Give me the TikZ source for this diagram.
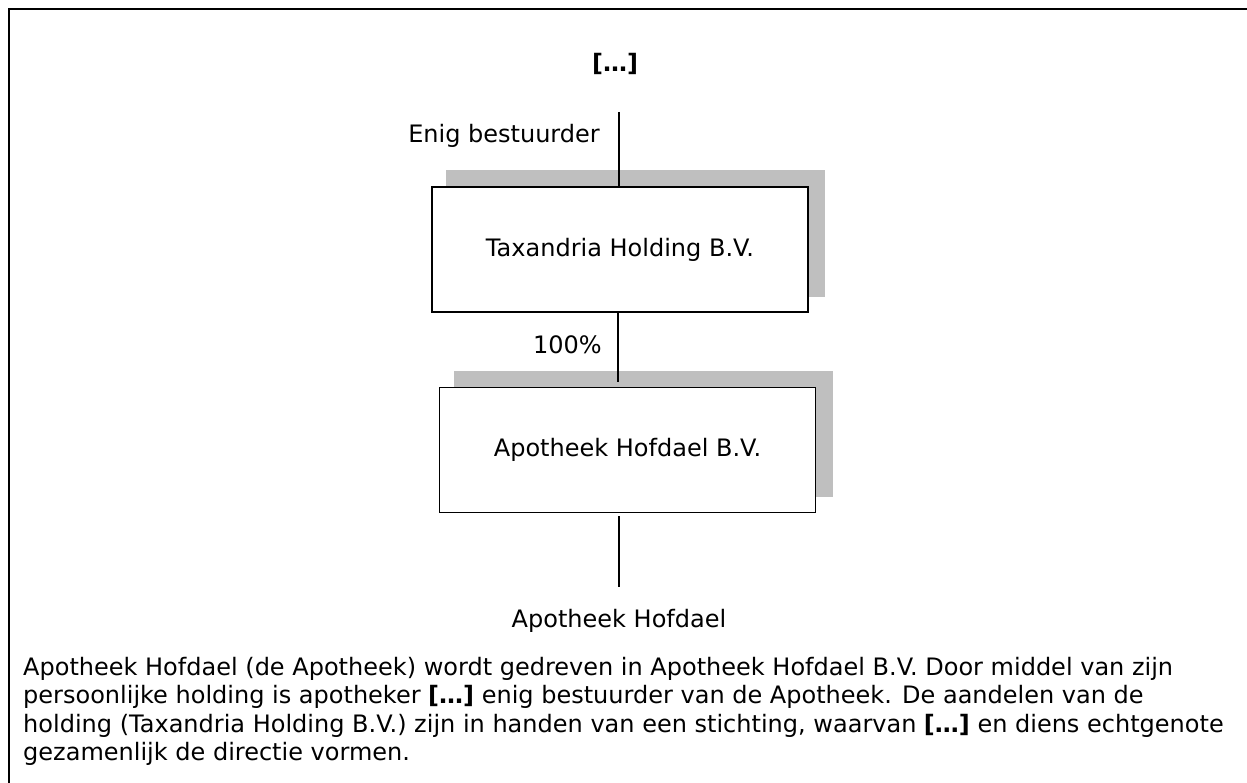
\documentclass[tikz,border=0pt]{standalone}
\usepackage{fontspec}
\setmainfont{DejaVu Sans}
\definecolor{shadowgray}{RGB}{191,191,191}
\begin{document}
\begin{tikzpicture}[x=1pt,y=-1pt,
  every node/.style={font=\fontsize{24}{28.5}\selectfont},
  entity/.style={draw=black,line width=1.8pt,fill=white,minimum width=376pt,minimum height=125pt,inner sep=0pt},
  link/.style={line width=1.3pt},
  lbl/.style={inner sep=0pt}]
\useasboundingbox (0,0) rectangle (1247,783);
\draw[line width=2.5pt] (1247,9) -- (9,9) -- (9,783);
% shadows
\fill[shadowgray] (446,170) rectangle (825,297);
\fill[shadowgray] (454,371) rectangle (833,497);
\node[entity] (t) at (620,249.5) {Taxandria Holding B.V.};
\node[entity] (a) at (627.5,450) {Apotheek Hofdael B.V.};
\node[lbl,font=\fontsize{24}{28}\selectfont\bfseries] (top) at (615,64) {[…]};
\coordinate (ts) at (619,112);
\node[lbl,anchor=east] (enig) at (600,136) {Enig bestuurder};
\node[lbl,anchor=east] (pct) at (602,345) {100\%};
\node[lbl] (ah) at (619,621) {Apotheek Hofdael};
\draw[link] (ts) -- (ts |- t.north);
\draw[link,shorten >=5pt] (t.south -| 618,0) -- (a.north -| 618,0);
\draw[link,shorten <=3pt,shorten >=22pt] (a.south -| 619,0) -- (ah.north -| 619,0);
\node[lbl,anchor=base west] (p1) at (23,675) {Apotheek Hofdael (de Apotheek) wordt gedreven in Apotheek Hofdael B.V. Door middel van zijn};
\node[lbl,anchor=base west] (p2) at (23,703.5) {persoonlijke holding is apotheker \textbf{[…]} enig bestuurder van de Apotheek. De aandelen van de};
\node[lbl,anchor=base west] (p3) at (23,732) {holding (Taxandria Holding B.V.) zijn in handen van een stichting, waarvan \textbf{[…]} en diens echtgenote};
\node[lbl,anchor=base west] (p4) at (23,760.5) {gezamenlijk de directie vormen.};
\end{tikzpicture}
\end{document}
